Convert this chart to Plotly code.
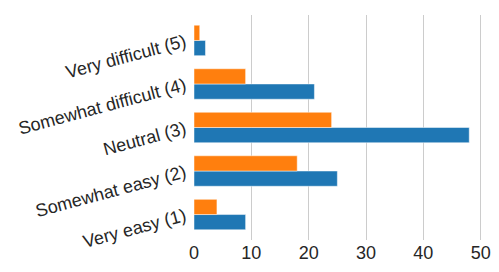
import plotly.graph_objects as go

categories = ["Very easy (1)", "Somewhat easy (2)", "Neutral (3)", "Somewhat difficult (4)", "Very difficult (5)"]
blue_values = [9, 25, 48, 21, 2]
orange_values = [4, 18, 24, 9, 1]
x_ticks = [0, 10, 20, 30, 40, 50]

fig = go.Figure()
fig.add_trace(go.Bar(y=categories, x=blue_values, orientation="h",
                     marker=dict(color="#1f77b4", line=dict(color="rgba(255,255,255,0.6)", width=0.8))))
fig.add_trace(go.Bar(y=categories, x=orange_values, orientation="h",
                     marker=dict(color="#ff7f0e", line=dict(color="rgba(255,255,255,0.6)", width=0.8))))

# page body has an 8px default margin, so the figure is sized to fit the window
fig.update_layout(
    width=491, height=264,
    margin=dict(l=186, r=16, t=7, b=32),
    barmode="group", bargap=0.3, bargroupgap=0,
    showlegend=False,
    plot_bgcolor="white", paper_bgcolor="white",
    font=dict(family="Liberation Sans, Arial, sans-serif", size=18, color="#262626"),
)
fig.update_xaxes(range=[0, 50.4], tickvals=x_ticks, showgrid=True, gridcolor="#cccccc", gridwidth=1.2,
                 zeroline=False, showline=False, ticks="", ticklabelstandoff=0, automargin=False)
fig.update_yaxes(categoryorder="array", categoryarray=categories, range=[-0.585, 4.585],
                 showgrid=False, zeroline=False, showline=False, ticks="", tickangle=-15,
                 ticklabelstandoff=8, automargin=False)

fig.write_html("out.html")
